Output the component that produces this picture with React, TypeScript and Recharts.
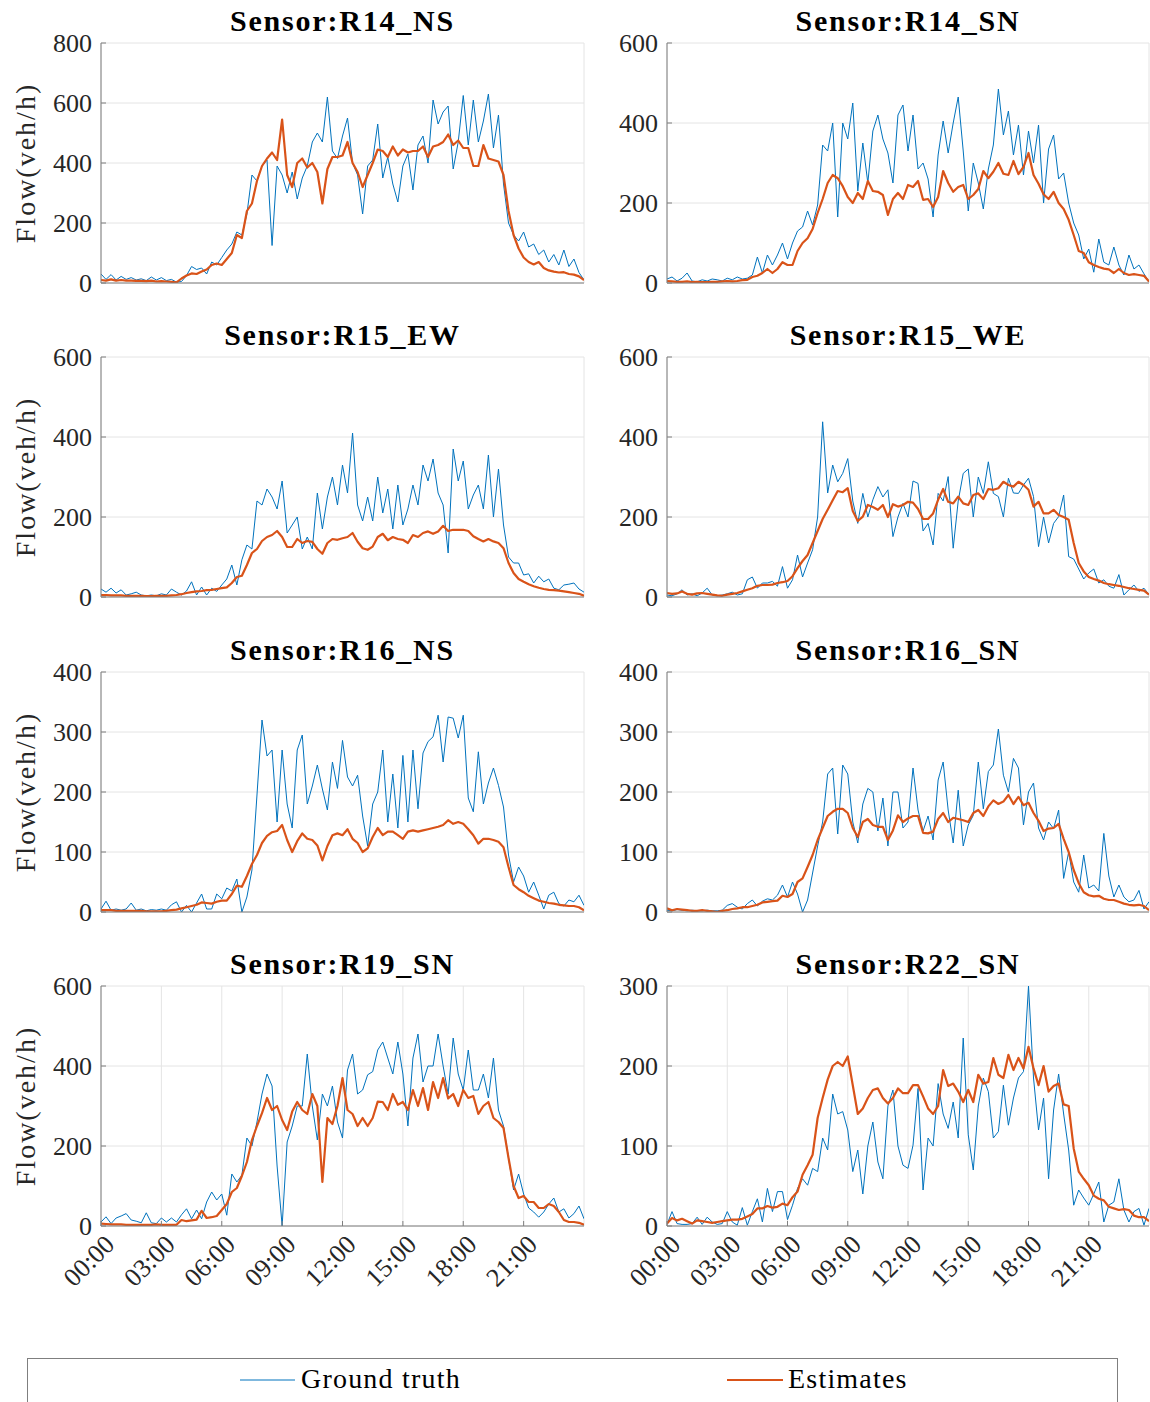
import React from 'react';
import { LineChart, Line, XAxis, YAxis, CartesianGrid } from 'recharts';

const FONT = "'Liberation Serif', 'Times New Roman', serif";
const BLUE = '#0072BD';
const ORANGE = '#D95319';
const AXIS = '#7f7f7f';
const GRID = '#e4e4e4';
const TEXT = '#262626';

// 15-minute time grid (hours 0..24)
const HOURS = Array.from({ length: 97 }, (_, i) => i / 4);
const X_TICKS = [0, 3, 6, 9, 12, 15, 18, 21];
const X_TICK_LABELS = ['00:00', '03:00', '06:00', '09:00', '12:00', '15:00', '18:00', '21:00'];

const R14_NS_GT = [30,12,28,10,22,12,18,10,14,8, 20,10,18,8,12,3,5,25,55,45, 50,30,70,60,85,110,130,170,160,230, 360,340,390,410,125,390,360,300,370,280, 350,390,470,500,470,620,440,415,490,550, 400,360,230,390,410,530,350,420,330,270, 390,430,310,460,490,400,610,530,570,590, 380,470,625,460,610,470,540,630,450,560, 330,200,160,140,170,120,130,95,110,70, 95,60,110,55,80,35,10];
const R14_NS_EST = [10,8,12,8,10,8,8,7,7,6, 8,5,6,5,4,2,15,25,32,30, 38,45,60,65,60,80,100,160,150,240, 265,340,390,415,435,410,545,360,320,400, 415,385,400,370,265,380,420,420,425,470, 400,370,320,360,400,445,440,420,455,425, 445,435,440,440,455,420,455,460,470,495, 460,475,450,450,390,390,460,415,410,405, 360,240,160,115,85,70,62,70,50,42, 38,35,36,30,28,22,10];

const R14_SN_GT = [10,15,5,12,25,5,3,8,5,10, 8,5,12,8,15,10,12,20,65,25, 70,45,70,100,60,100,130,140,180,145, 195,345,330,400,165,400,360,450,230,350, 250,380,420,360,325,250,420,445,330,420, 285,300,260,165,320,405,325,400,465,330, 180,300,250,185,285,345,485,370,430,320, 395,270,380,300,395,200,335,370,260,275, 200,150,120,60,85,27,110,52,45,90, 45,20,70,35,45,23,3];
const R14_SN_EST = [5,4,3,3,4,2,3,2,2,3, 3,4,5,4,5,7,8,15,18,25, 35,25,35,52,45,45,80,100,112,135, 175,210,250,270,262,242,215,200,225,210, 255,230,228,220,170,210,225,210,245,240, 255,208,210,190,215,280,250,228,240,245, 210,220,235,280,262,278,300,273,270,305, 272,290,325,270,248,222,210,228,200,185, 158,120,80,75,52,45,40,36,34,25, 35,25,20,22,20,18,4];

const R15_EW_GT = [20,12,22,10,18,5,8,12,5,3, 5,3,8,5,20,12,5,15,38,5, 25,5,22,14,30,45,80,30,93,130, 120,240,230,270,250,220,290,160,180,200, 120,150,120,260,170,250,300,230,330,260, 410,230,190,250,190,300,210,270,170,280, 180,220,280,230,330,290,345,260,230,110, 370,290,340,220,255,280,220,355,200,320, 180,100,85,85,55,58,35,52,38,45, 22,18,30,32,35,20,12];
const R15_EW_EST = [5,5,4,4,4,3,3,3,3,2, 2,3,3,3,4,5,7,10,12,14, 15,17,18,20,22,24,35,50,53,80, 110,120,140,150,155,165,150,125,125,145, 135,140,138,120,108,135,145,143,147,150, 160,138,122,118,126,150,158,142,150,145, 143,135,155,150,160,164,158,164,178,165, 168,168,168,165,152,145,139,145,139,135, 122,85,60,45,38,32,27,23,20,18, 17,16,14,12,10,8,3];

const R15_WE_GT = [5,3,8,18,5,8,3,10,22,5, 3,5,8,12,5,8,43,50,22,35, 35,39,27,76,22,43,105,50,85,118, 200,438,260,330,288,309,346,240,184,259, 200,243,276,250,268,151,200,234,200,290, 284,165,184,130,259,240,301,122,240,309, 320,200,300,259,338,259,251,200,297,260, 259,280,297,251,126,200,135,184,201,255, 101,95,70,45,60,70,35,43,27,22, 56,5,18,30,14,22,6];
const R15_WE_EST = [10,8,9,14,8,6,9,10,8,6, 4,3,6,8,10,14,18,22,28,30, 30,31,35,37,40,52,72,90,105,135, 165,195,218,242,265,262,272,215,190,201, 230,225,218,230,200,232,226,230,238,236, 220,195,195,209,243,270,238,234,251,234, 230,255,259,245,270,268,272,288,280,276, 288,280,268,226,238,209,209,218,205,200, 193,135,85,64,50,45,41,35,32,30, 28,25,22,20,18,16,6];

const R16_NS_GT = [5,18,3,5,3,5,15,3,5,2, 4,3,5,3,12,17,0,11,0,15, 30,5,5,30,22,40,35,55,0,25, 70,195,320,260,270,150,270,180,140,270, 295,180,210,245,205,170,250,206,286,225, 210,228,160,110,180,200,270,150,230,140, 261,150,270,172,265,284,292,328,250,325, 323,290,328,190,167,267,180,215,240,211, 175,95,50,75,60,33,50,28,5,28, 33,14,10,20,17,28,11];
const R16_NS_EST = [3,3,3,2,2,2,2,2,2,1, 1,1,1,2,3,4,6,8,10,12, 16,15,14,17,19,19,30,44,42,60, 80,95,115,127,133,135,145,120,100,118, 131,122,120,111,86,110,128,131,128,138, 122,115,100,106,125,140,128,134,134,128, 122,134,136,134,136,138,140,142,145,153, 147,150,147,138,128,114,122,122,120,117, 108,75,45,38,33,27,23,19,17,15, 14,12,11,10,10,8,3];

const R16_SN_GT = [3,2,4,3,2,3,2,2,3,2, 2,3,11,14,8,5,14,20,10,18, 22,20,28,45,25,50,30,0,20,65, 110,150,230,240,130,245,230,150,115,180, 206,200,135,190,110,200,200,140,150,240, 170,135,160,120,220,250,170,115,203,110, 145,161,250,172,234,245,305,228,200,256, 240,145,200,215,140,120,150,139,170,56, 100,50,33,95,40,45,35,131,60,25, 45,25,17,20,36,5,17];
const R16_SN_EST = [6,3,5,4,3,2,2,3,2,1, 0,2,3,5,6,8,8,10,12,16, 17,18,19,27,25,30,50,56,75,95, 120,140,160,167,172,172,165,140,125,150, 155,145,142,142,120,136,161,150,156,160, 160,132,131,134,155,165,150,157,155,153, 150,165,170,160,176,186,180,184,195,180, 192,178,182,165,152,135,139,140,147,122, 100,70,48,33,28,26,27,22,20,20, 17,14,12,11,12,10,3];

const R19_SN_GT = [10,23,6,20,25,31,15,12,8,33, 8,6,20,10,20,10,28,43,18,40, 18,60,85,65,80,27,130,110,127,220, 200,260,330,380,350,150,0,210,250,300, 300,430,300,215,330,300,350,260,220,390, 430,330,340,378,386,440,460,420,380,460, 380,250,420,480,360,400,400,480,400,330, 470,380,340,440,340,340,380,320,420,290, 250,170,90,130,80,45,35,22,35,55, 70,35,43,20,31,50,18];
const R19_SN_EST = [6,5,4,4,4,3,3,3,3,3, 3,4,3,3,3,3,15,12,14,16, 38,20,22,25,40,55,85,95,125,160, 215,250,282,320,290,300,265,240,286,310, 290,280,330,300,110,270,255,300,370,290, 280,250,270,250,270,311,310,290,330,303, 310,290,340,300,345,290,360,320,370,319, 330,300,340,320,325,280,300,310,270,260, 245,170,100,70,75,60,60,45,45,55, 50,35,15,10,10,8,3];

const R22_SN_GT = [2,18,3,2,2,3,11,2,11,5, 2,3,18,5,1,23,1,18,34,5, 47,18,43,43,8,26,47,59,51,72, 68,110,95,165,140,143,120,68,95,40, 100,130,80,59,150,170,100,76,72,101, 172,45,110,100,178,140,122,155,110,235, 114,70,150,185,168,110,118,176,126,160, 185,193,300,185,120,160,59,145,190,140, 95,26,45,35,26,40,55,5,26,30, 59,20,5,18,22,1,22];
const R22_SN_EST = [3,10,7,9,6,3,7,6,5,4, 5,6,7,8,8,9,12,15,22,22, 25,23,24,28,26,36,43,64,76,89, 135,160,183,200,205,200,212,176,140,147, 160,170,172,160,153,160,172,166,166,176, 176,162,147,140,150,195,175,178,168,155, 170,155,189,178,180,210,189,185,214,195, 210,197,224,197,176,200,168,175,178,152, 150,97,68,59,51,38,34,32,24,22, 20,21,20,13,11,11,6];

const TICKS_800 = [0, 200, 400, 600, 800];
const TICKS_600 = [0, 200, 400, 600];
const TICKS_400 = [0, 100, 200, 300, 400];
const TICKS_300 = [0, 100, 200, 300];

const PANELS = [
  { name: 'R14_NS', gt: R14_NS_GT, est: R14_NS_EST, yMax: 800, yTicks: TICKS_800, col: 0, row: 0 },
  { name: 'R14_SN', gt: R14_SN_GT, est: R14_SN_EST, yMax: 600, yTicks: TICKS_600, col: 1, row: 0 },
  { name: 'R15_EW', gt: R15_EW_GT, est: R15_EW_EST, yMax: 600, yTicks: TICKS_600, col: 0, row: 1 },
  { name: 'R15_WE', gt: R15_WE_GT, est: R15_WE_EST, yMax: 600, yTicks: TICKS_600, col: 1, row: 1 },
  { name: 'R16_NS', gt: R16_NS_GT, est: R16_NS_EST, yMax: 400, yTicks: TICKS_400, col: 0, row: 2 },
  { name: 'R16_SN', gt: R16_SN_GT, est: R16_SN_EST, yMax: 400, yTicks: TICKS_400, col: 1, row: 2 },
  { name: 'R19_SN', gt: R19_SN_GT, est: R19_SN_EST, yMax: 600, yTicks: TICKS_600, col: 0, row: 3 },
  { name: 'R22_SN', gt: R22_SN_GT, est: R22_SN_EST, yMax: 300, yTicks: TICKS_300, col: 1, row: 3 },
];

const COL_LEFT = [101, 667];
const COL_WIDTH = [483, 482];
const ROW_TOP = [43, 357, 672, 986];
const PLOT_H = 240;
const TOP_PAD = 24;

const XTick = (props: any) => {
  const { x, y, payload } = props;
  const idx = X_TICKS.indexOf(payload.value);
  const label = idx >= 0 ? X_TICK_LABELS[idx] : '';
  const ax = x + 15;
  const ay = y + 20;
  return (
    <text x={ax} y={ay} transform={`rotate(-45 ${ax} ${ay})`} textAnchor="end"
      fontSize={26} fontFamily={FONT} fill={TEXT}>{label}</text>
  );
};

const YTick = (props: any) => {
  const { x, y, payload } = props;
  return (
    <text x={x} y={y} dy="0.34em" textAnchor="end" fontSize={26} fontFamily={FONT} fill={TEXT}>
      {payload.value}
    </text>
  );
};

function PanelChart({ panel }: { panel: any }) {
  const plotLeft = COL_LEFT[panel.col];
  const plotW = COL_WIDTH[panel.col];
  const plotTop = ROW_TOP[panel.row];
  const isBottom = panel.row === 3;
  const data = HOURS.map((t, i) => ({ t, gt: panel.gt[i], est: panel.est[i] }));
  return (
    <div style={{ position: 'absolute', left: plotLeft - 90, top: plotTop - TOP_PAD }}>
      <LineChart width={plotW + 100} height={PLOT_H + 80 + TOP_PAD} data={data}
        margin={{ top: TOP_PAD, right: 10, bottom: 0, left: 0 }}>
        <CartesianGrid stroke={GRID} strokeWidth={1} xAxisId="b" yAxisId="l" />
        <XAxis xAxisId="b" dataKey="t" type="number" domain={[0, 24]} ticks={X_TICKS} interval={0}
          height={80} tickSize={-5} tickMargin={5} axisLine={{ stroke: AXIS }} tickLine={{ stroke: AXIS }}
          tick={isBottom ? <XTick /> : false} allowDataOverflow />
        <XAxis xAxisId="top" orientation="top" dataKey="t" type="number" domain={[0, 24]} ticks={X_TICKS}
          interval={0} height={0} tickSize={-5} axisLine={{ stroke: AXIS }} tickLine={{ stroke: AXIS }}
          tick={false} allowDataOverflow />
        <YAxis yAxisId="l" type="number" domain={[0, panel.yMax]} ticks={panel.yTicks} interval={0}
          width={90} tickSize={-5} tickMargin={14} axisLine={{ stroke: AXIS }} tickLine={{ stroke: AXIS }}
          tick={<YTick />} allowDataOverflow />
        <YAxis yAxisId="r" orientation="right" type="number" domain={[0, panel.yMax]} ticks={panel.yTicks}
          interval={0} width={0} tickSize={-5} axisLine={{ stroke: AXIS }} tickLine={{ stroke: AXIS }}
          tick={false} allowDataOverflow />
        <Line xAxisId="b" yAxisId="l" type="linear" dataKey="gt" stroke={BLUE} strokeWidth={1}
          dot={false} activeDot={false} isAnimationActive={false} strokeLinejoin="round" />
        <Line xAxisId="b" yAxisId="l" type="linear" dataKey="est" stroke={ORANGE} strokeWidth={2.2}
          dot={false} activeDot={false} isAnimationActive={false} strokeLinejoin="round" />
      </LineChart>
    </div>
  );
}

export default function App() {
  return (
    <div style={{ position: 'absolute', left: 0, top: 0, width: 1150, height: 1402, background: '#fff', overflow: 'hidden' }}>
      <svg width={1150} height={1402} style={{ position: 'absolute', left: 0, top: 0 }}>
        {PANELS.map((p) => (
          <text key={p.name} x={COL_LEFT[p.col] + COL_WIDTH[p.col] / 2} y={ROW_TOP[p.row] - 12}
            textAnchor="middle" fontWeight="bold" fontSize={30} letterSpacing={1.8}
            fontFamily={FONT} fill="#000">{`Sensor:${p.name}`}</text>
        ))}
        {ROW_TOP.map((t) => (
          <text key={t} transform={`translate(35 ${t + PLOT_H / 2}) rotate(-90)`} textAnchor="middle"
            fontSize={28} letterSpacing={2} fontFamily={FONT} fill={TEXT}>Flow(veh/h)</text>
        ))}
        <rect x={27.5} y={1358.5} width={1090} height={80} fill="#fff" stroke={AXIS} strokeWidth={1} />
        <line x1={240} y1={1380} x2={295} y2={1380} stroke={BLUE} strokeWidth={1} />
        <text x={301} y={1388} fontSize={28} letterSpacing={1.2} fontFamily={FONT} fill="#000">Ground truth</text>
        <line x1={727} y1={1380} x2={783} y2={1380} stroke={ORANGE} strokeWidth={2.2} />
        <text x={788} y={1388} fontSize={28} letterSpacing={1.2} fontFamily={FONT} fill="#000">Estimates</text>
      </svg>
      {PANELS.map((p) => (
        <PanelChart key={p.name} panel={p} />
      ))}
    </div>
  );
}
